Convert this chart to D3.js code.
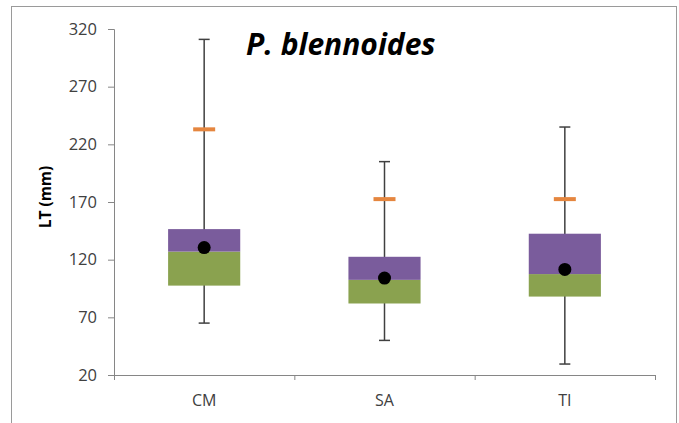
<!DOCTYPE html>
<html>
<head>
<meta charset="utf-8">
<script src="https://cdn.jsdelivr.net/npm/d3@7"></script>
<style>
  html, body { margin: 0; padding: 0; background: #fff; }
  svg { display: block; }
</style>
</head>
<body>
<svg id="chart" width="679" height="423"></svg>
<script>
// Total length (LT, mm) by area
const categories = ["CM", "SA", "TI"];
const minVals    = [65, 50, 29.5];
const q1Vals     = [97.5, 82, 88];
const medianVals = [127, 102.5, 107.5];
const q3Vals     = [146.5, 122.5, 142.5];
const maxVals    = [311, 205, 235];
const meanVals   = [130.5, 104, 111.5];
const refVals    = [233, 172.5, 172.5];
const yTicks     = [20, 70, 120, 170, 220, 270, 320];

const svg = d3.select("#chart");
const margin = { left: 114, right: 24, top: 29, bottom: 48 };
const W = 679, H = 423;
const FONT = "'Open Sans', 'Liberation Sans', sans-serif";

// chart frame
svg.append("rect")
  .attr("x", 11.5).attr("y", 6.5)
  .attr("width", 665).attr("height", 430)
  .attr("fill", "#fff").attr("stroke", "#9a9a9a").attr("stroke-width", 1);

const x = d3.scaleBand().domain(categories)
  .range([margin.left, W - margin.right]).paddingInner(0).paddingOuter(0);
const y = d3.scaleLinear().domain([20, 320]).range([H - margin.bottom, margin.top]);

const boxW = x.bandwidth() * 0.4;
const cx = c => x(c) + x.bandwidth() / 2;

// axes
const yAxis = d3.axisLeft(y).tickValues(yTicks).tickSize(6).tickPadding(11);
const gy = svg.append("g").attr("transform", `translate(${margin.left},0)`).call(yAxis);
gy.select(".domain").attr("stroke", "#868686");
gy.selectAll(".tick line").attr("stroke", "#868686");
gy.selectAll(".tick text")
  .attr("fill", "#404040")
  .style("font-family", FONT)
  .style("font-size", "16.5px");

const xAxis = d3.axisBottom(x).tickSize(0).tickPadding(20);
const gx = svg.append("g").attr("transform", `translate(0,${y(20)})`).call(xAxis);
gx.select(".domain").attr("stroke", "#868686");
gx.selectAll(".tick text")
  .attr("fill", "#404040")
  .style("font-family", FONT)
  .style("font-size", "16px");
// band boundary ticks
const bounds = categories.map(c => x(c)).concat([x.range()[1]]);
gx.selectAll("line.bt").data(bounds).enter().append("line")
  .attr("class", "bt")
  .attr("x1", d => d + 0.5).attr("x2", d => d + 0.5)
  .attr("y1", 0).attr("y2", 5)
  .attr("stroke", "#868686");

// whiskers
const whisk = svg.append("g");
categories.forEach((c, i) => {
  whisk.append("line")
    .attr("x1", cx(c)).attr("x2", cx(c))
    .attr("y1", y(maxVals[i])).attr("y2", y(minVals[i]))
    .attr("stroke", "#404040").attr("stroke-width", 1.5);
  [minVals[i], maxVals[i]].forEach(v => {
    whisk.append("line")
      .attr("x1", cx(c) - 5.5).attr("x2", cx(c) + 5.5)
      .attr("y1", y(v)).attr("y2", y(v))
      .attr("stroke", "#404040").attr("stroke-width", 1.5);
  });
});

// boxes: lower half (Q1-median) green, upper half (median-Q3) purple
svg.append("g").selectAll("rect.lo").data(categories).enter().append("rect")
  .attr("x", c => cx(c) - boxW / 2)
  .attr("width", boxW)
  .attr("y", (c, i) => y(medianVals[i]))
  .attr("height", (c, i) => y(q1Vals[i]) - y(medianVals[i]))
  .attr("fill", "#8aa24f");
svg.append("g").selectAll("rect.hi").data(categories).enter().append("rect")
  .attr("x", c => cx(c) - boxW / 2)
  .attr("width", boxW)
  .attr("y", (c, i) => y(q3Vals[i]))
  .attr("height", (c, i) => y(medianVals[i]) - y(q3Vals[i]))
  .attr("fill", "#7a5c9c");

// reference dashes
svg.append("g").selectAll("rect.ref").data(categories).enter().append("rect")
  .attr("x", c => cx(c) - 11)
  .attr("width", 22)
  .attr("y", (c, i) => y(refVals[i]) - 2)
  .attr("height", 4)
  .attr("fill", "#e5863f");

// means
svg.append("g").selectAll("circle").data(categories).enter().append("circle")
  .attr("cx", c => cx(c))
  .attr("cy", (c, i) => y(meanVals[i]))
  .attr("r", 6.5)
  .attr("fill", "#000");

// axis title
svg.append("text")
  .attr("transform", `translate(51,197) rotate(-90)`)
  .attr("text-anchor", "middle")
  .style("font-family", FONT)
  .style("font-size", "15.5px").style("font-weight", "bold")
  .attr("fill", "#000")
  .text("LT (mm)");

// chart title
svg.append("text")
  .attr("x", 246).attr("y", 55)
  .style("font-family", FONT)
  .style("font-size", "30px").style("font-weight", "bold").style("font-style", "italic")
  .attr("fill", "#000")
  .text("P. blennoides");
</script>
</body>
</html>
